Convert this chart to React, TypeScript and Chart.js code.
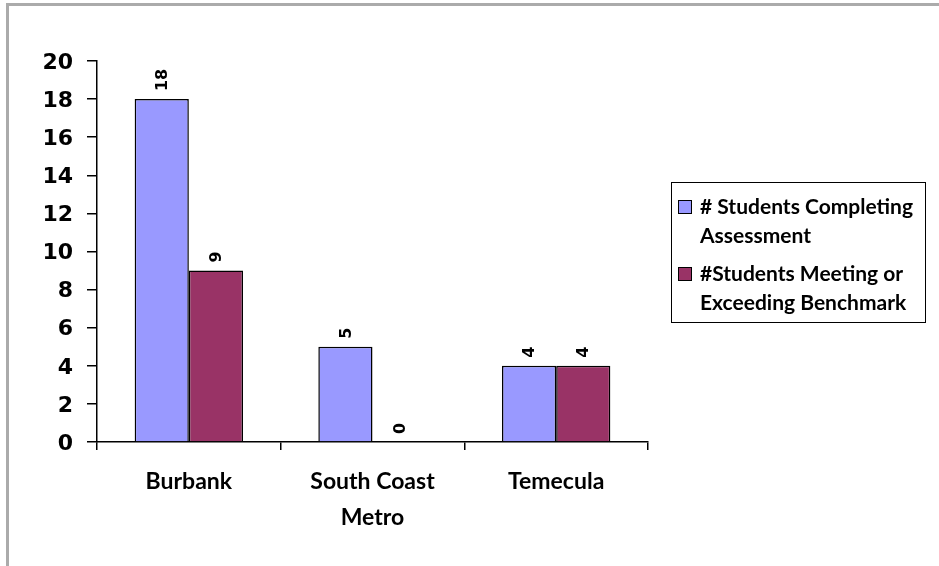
import React, { useEffect, useRef } from "react";
import { Chart, registerables } from "chart.js";

Chart.register(...registerables);

const categories: (string | string[])[] = ["Burbank", ["South Coast", "Metro"], "Temecula"];
const seriesNames = [
  "# Students Completing Assessment",
  "#Students Meeting or Exceeding Benchmark",
];
const legendLines = [
  ["# Students Completing", "Assessment"],
  ["#Students Meeting or", "Exceeding Benchmark"],
];
const completing = [18, 5, 4];
const meeting = [9, 0, 4];
const seriesColors = ["#9999FF", "#993366"];
const yMin = 0;
const yMax = 20;
const yStep = 2;

const labelFont = '"Lato", "Open Sans", sans-serif';
const numFont = '"DejaVu Sans", sans-serif';

const framePlugin = {
  id: "frame",
  beforeDraw(chart: any) {
    const ctx = chart.ctx;
    ctx.save();
    ctx.fillStyle = "#ffffff";
    ctx.fillRect(0, 0, chart.width, chart.height);
    ctx.fillStyle = "#ababab";
    ctx.fillRect(6, 3, chart.width - 6, 3);
    ctx.fillRect(6, 3, 3, chart.height - 3);
    ctx.restore();
  },
};

const valueLabelPlugin = {
  id: "valueLabels",
  afterDatasetsDraw(chart: any) {
    const ctx = chart.ctx;
    chart.data.datasets.forEach((ds: any, i: number) => {
      const meta = chart.getDatasetMeta(i);
      meta.data.forEach((bar: any, j: number) => {
        const v = ds.data[j];
        ctx.save();
        ctx.translate(bar.x + 1, bar.y - 8);
        ctx.rotate(-Math.PI / 2);
        ctx.font = `bold 16px ${numFont}`;
        ctx.fillStyle = "#000";
        ctx.textAlign = "left";
        ctx.textBaseline = "middle";
        ctx.fillText(String(v), 0, 0);
        ctx.restore();
      });
    });
  },
};

const legendPlugin = {
  id: "customLegend",
  afterDraw(chart: any) {
    const ctx = chart.ctx;
    const bx = 671.5, by = 182.5, bw = 254, bh = 140;
    ctx.save();
    ctx.fillStyle = "#fff";
    ctx.fillRect(bx, by, bw, bh);
    ctx.strokeStyle = "#000";
    ctx.lineWidth = 1;
    ctx.strokeRect(bx, by, bw, bh);
    ctx.font = `bold 21px ${labelFont}`;
    ctx.textBaseline = "middle";
    ctx.textAlign = "left";
    const itemTops = [207, 274];
    const lineGap = 29;
    legendLines.forEach((lines, i) => {
      const cy = itemTops[i];
      ctx.fillStyle = seriesColors[i];
      ctx.fillRect(678, cy - 7, 14, 14);
      ctx.strokeStyle = "#000";
      ctx.lineWidth = 1;
      ctx.strokeRect(678.5, cy - 6.5, 13, 13);
      ctx.fillStyle = "#000";
      lines.forEach((t, k) => {
        ctx.fillText(t, 700, cy + k * lineGap);
      });
    });
    ctx.restore();
  },
};

export default function App() {
  const ref = useRef<HTMLCanvasElement>(null);
  useEffect(() => {
    if (!ref.current) return;
    const chart = new Chart(ref.current, {
      type: "bar",
      data: {
        labels: categories as any,
        datasets: [
          {
            label: seriesNames[0],
            data: completing,
            backgroundColor: seriesColors[0],
            borderColor: "#000",
            borderWidth: 1.5,
            barPercentage: 1,
            categoryPercentage: 0.59,
          },
          {
            label: seriesNames[1],
            data: meeting,
            backgroundColor: seriesColors[1],
            borderColor: "#000",
            borderWidth: 1.5,
            barPercentage: 1,
            categoryPercentage: 0.59,
          },
        ],
      },
      options: {
        responsive: false,
        animation: false,
        devicePixelRatio: 1,
        layout: { padding: { left: 0, top: 61, right: 291, bottom: 0 } },
        plugins: {
          legend: { display: false },
          tooltip: { enabled: false },
          title: { display: false },
        },
        scales: {
          x: {
            offset: true,
            afterFit: (s: any) => {
              s.height = 124;
            },
            grid: {
              display: true,
              offset: true,
              drawOnChartArea: false,
              drawTicks: true,
              tickLength: 8,
              color: "#000",
              lineWidth: 1.5,
            },
            border: { display: true, color: "#000", width: 1.5 },
            ticks: {
              color: "#000",
              padding: 14,
              maxRotation: 0,
              autoSkip: false,
              font: { family: labelFont, size: 23, weight: "bold", lineHeight: 1.55 },
            },
          },
          y: {
            min: yMin,
            max: yMax,
            afterFit: (s: any) => {
              s.width = 97;
            },
            grid: {
              display: true,
              drawOnChartArea: false,
              drawTicks: true,
              tickLength: 10,
              color: "#000",
              lineWidth: 1.5,
            },
            border: { display: true, color: "#000", width: 1.5 },
            ticks: {
              stepSize: yStep,
              color: "#000",
              padding: 14,
              labelOffset: 2,
              font: { family: numFont, size: 22, weight: "bold" },
            },
          },
        },
      },
      plugins: [framePlugin, valueLabelPlugin, legendPlugin],
    });
    return () => chart.destroy();
  }, []);
  return (
    <div style={{ position: "absolute", left: 0, top: 0, width: 939, height: 566 }}>
      <canvas ref={ref} width={939} height={566} style={{ display: "block" }} />
    </div>
  );
}
